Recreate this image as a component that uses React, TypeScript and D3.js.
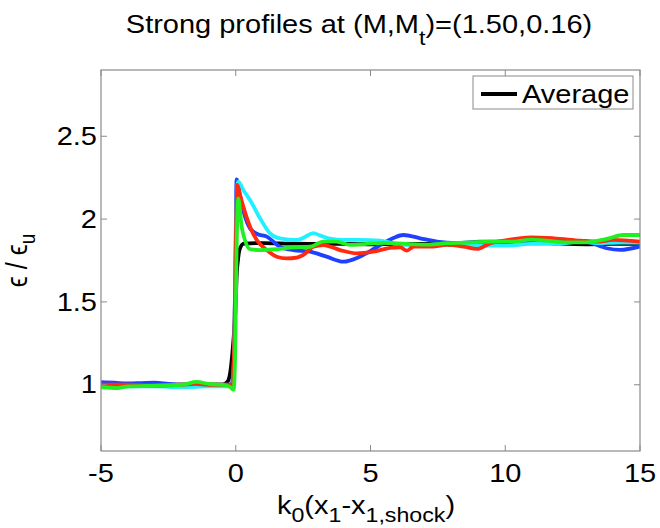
import React from "react";
import * as d3 from "d3";

const xTicks = [-5, 0, 5, 10, 15];
const yTicks = [1, 1.5, 2, 2.5];
const yTickLabels = ["1", "1.5", "2", "2.5"];

const blackX = [-5, -3, -1, -0.5, -0.3, -0.2, -0.12, -0.05, 0, 0.03, 0.08, 0.15, 0.3, 1, 2, 3, 4, 5, 6, 7, 8, 9, 10, 11, 12, 13, 14, 15];
const blackY = [1.0, 1.0, 1.0, 1.0, 1.02, 1.08, 1.2, 1.35, 1.5, 1.65, 1.75, 1.82, 1.852, 1.855, 1.852, 1.85, 1.85, 1.848, 1.85, 1.85, 1.852, 1.855, 1.858, 1.86, 1.852, 1.848, 1.85, 1.85];

const blueX = [-5, -4.5, -4, -3.5, -3, -2.5, -2, -1.5, -1, -0.5, -0.15, -0.05, 0, 0.03, 0.15, 0.3, 0.53, 0.8, 1.15, 1.64, 2.14, 2.76, 3.37, 3.99, 4.6, 5.23, 5.85, 6.22, 6.84, 7.46, 8.2, 9.06, 10.3, 11.3, 12.3, 13.0, 13.76, 14.26, 15];
const blueY = [1.015, 1.012, 1.008, 1.01, 1.012, 1.005, 1.0, 1.005, 1.0, 1.0, 1.0, 1.3, 1.9, 2.24, 2.15, 2.04, 1.944, 1.91, 1.894, 1.833, 1.813, 1.803, 1.773, 1.743, 1.773, 1.83, 1.886, 1.904, 1.884, 1.864, 1.855, 1.864, 1.864, 1.876, 1.87, 1.864, 1.824, 1.814, 1.835];

const cyanX = [-5, -4, -3, -2, -1, -0.3, -0.1, -0.02, 0.04, 0.09, 0.3, 0.53, 0.9, 1.27, 1.64, 2.26, 2.55, 2.87, 3.15, 3.5, 4.0, 4.6, 5.35, 6.1, 7.2, 8.08, 9.06, 10.05, 10.95, 11.8, 12.8, 13.4, 14.26, 15];
const cyanY = [0.99, 0.99, 0.99, 0.985, 0.99, 0.99, 1.0, 1.6, 2.15, 2.226, 2.17, 2.115, 2.005, 1.914, 1.884, 1.874, 1.89, 1.915, 1.9, 1.882, 1.874, 1.874, 1.87, 1.846, 1.84, 1.846, 1.84, 1.84, 1.85, 1.85, 1.864, 1.855, 1.858, 1.858];

const redX = [-5, -4, -3, -2, -1.5, -1, -0.3, -0.1, -0.03, 0.02, 0.06, 0.15, 0.28, 0.53, 0.78, 1.15, 1.52, 1.89, 2.26, 2.5, 2.88, 3.25, 3.87, 4.49, 5.1, 5.72, 6.1, 6.35, 6.6, 7.2, 7.83, 8.45, 8.95, 9.45, 9.95, 10.95, 11.8, 12.8, 13.4, 14.0, 15];
const redY = [1.0, 1.0, 0.995, 1.0, 1.005, 1.0, 1.0, 1.0, 1.5, 2.0, 2.206, 2.15, 2.075, 1.954, 1.874, 1.813, 1.773, 1.763, 1.768, 1.783, 1.833, 1.843, 1.813, 1.793, 1.803, 1.826, 1.83, 1.81, 1.834, 1.834, 1.844, 1.834, 1.82, 1.855, 1.87, 1.89, 1.884, 1.87, 1.864, 1.874, 1.864];

const greenX = [-5, -4.4, -4, -3, -2, -1.45, -1, -0.5, -0.2, -0.08, -0.02, 0.03, 0.09, 0.22, 0.34, 0.53, 0.9, 1.52, 2.14, 2.76, 3.25, 3.74, 4.24, 4.86, 5.47, 6.35, 7.2, 7.83, 8.57, 9.45, 10.3, 10.95, 11.5, 12.3, 13.0, 13.76, 14.38, 15];
const greenY = [0.985, 0.98, 0.99, 0.995, 1.0, 1.017, 1.005, 1.0, 0.985, 0.97, 1.2, 1.8, 2.125, 1.954, 1.874, 1.818, 1.813, 1.818, 1.83, 1.833, 1.864, 1.864, 1.844, 1.85, 1.857, 1.85, 1.846, 1.855, 1.858, 1.864, 1.864, 1.876, 1.87, 1.86, 1.86, 1.88, 1.904, 1.904];

const series = [
  { name: "Average", xs: blackX, ys: blackY, color: "#000000" },
  { name: "s1", xs: blueX, ys: blueY, color: "#2040ff" },
  { name: "s2", xs: cyanX, ys: cyanY, color: "#20f0ff" },
  { name: "s3", xs: redX, ys: redY, color: "#ff2a10" },
  { name: "s4", xs: greenX, ys: greenY, color: "#20f020" },
];

const W = 660;
const H = 528;
const M = { left: 101, right: 640, top: 70, bottom: 451 };
const FONT = "'Liberation Sans', Arial, Helvetica, sans-serif";
const AXIS = "#8a8a8a";
const SX = 1.16;
const FS = 25;

export default function App() {
  const x = d3.scaleLinear().domain([-5, 15]).range([M.left, M.right]);
  const y = d3.scaleLinear().domain([0.6, 2.9]).range([M.bottom, M.top]);
  const line = d3
    .line<[number, number]>()
    .x((d) => x(d[0]))
    .y((d) => y(d[1]))
    .curve(d3.curveMonotoneX);
  const tl = 6;
  return (
    <svg width={W} height={H} style={{ position: "absolute", left: 0, top: 0, background: "#fff" }} fontFamily={FONT}>
      <rect x={0} y={0} width={W} height={H} fill="#fff" />
      <defs>
        <clipPath id="plotclip">
          <rect x={M.left} y={M.top} width={M.right - M.left} height={M.bottom - M.top} />
        </clipPath>
      </defs>
      <g clipPath="url(#plotclip)">
        {series.map((s) => (
          <path
            key={s.name}
            d={line(s.xs.map((v, i) => [v, s.ys[i]] as [number, number])) || ""}
            fill="none"
            stroke={s.color}
            strokeWidth={3.8}
            strokeLinejoin="round"
            strokeLinecap="round"
          />
        ))}
      </g>
      <rect x={M.left} y={M.top} width={M.right - M.left} height={M.bottom - M.top} fill="none" stroke={AXIS} strokeWidth={1.2} />
      {xTicks.map((t) => (
        <g key={"xt" + t}>
          <line x1={x(t)} x2={x(t)} y1={M.bottom} y2={M.bottom - tl} stroke={AXIS} strokeWidth={1} />
          <line x1={x(t)} x2={x(t)} y1={M.top} y2={M.top + tl} stroke={AXIS} strokeWidth={1} />
          <text transform={`translate(${x(t)},482) scale(${SX},1)`} fontSize={FS} textAnchor="middle" fill="#000">
            {String(t)}
          </text>
        </g>
      ))}
      {yTicks.map((t, i) => (
        <g key={"yt" + t}>
          <line x1={M.left} x2={M.left + tl} y1={y(t)} y2={y(t)} stroke={AXIS} strokeWidth={1} />
          <line x1={M.right} x2={M.right - tl} y1={y(t)} y2={y(t)} stroke={AXIS} strokeWidth={1} />
          <text transform={`translate(97,${y(t) + 8.7}) scale(${SX},1)`} fontSize={FS} textAnchor="end" fill="#000">
            {yTickLabels[i]}
          </text>
        </g>
      ))}
      <text transform={`translate(359,33) scale(${SX},1)`} fontSize={FS} textAnchor="middle" fill="#000">
        Strong profiles at (M,M<tspan dy={12} fontSize={20}>t</tspan>
        <tspan dy={-12}>)=(1.50,0.16)</tspan>
      </text>
      <text transform={`translate(366,514) scale(${SX},1)`} fontSize={FS} textAnchor="middle" fill="#000">
        k<tspan dy={8} fontSize={20}>0</tspan>
        <tspan dy={-8}>(x</tspan>
        <tspan dy={8} fontSize={20}>1</tspan>
        <tspan dy={-8}>-x</tspan>
        <tspan dy={8} fontSize={20}>1,shock</tspan>
        <tspan dy={-8}>)</tspan>
      </text>
      <text transform={`translate(27,${(M.top + M.bottom) / 2}) scale(${SX},1) rotate(-90)`} fontSize={FS} textAnchor="middle" fill="#000">
        ϵ / ϵ<tspan dy={7} fontSize={19}>u</tspan>
      </text>
      <rect x={473} y={76} width={160} height={33} fill="#fff" stroke={AXIS} strokeWidth={1} />
      <line x1={481} x2={517} y1={94} y2={94} stroke="#000" strokeWidth={4} />
      <text transform={`translate(522,103) scale(${SX},1)`} fontSize={FS} fill="#000">
        Average
      </text>
    </svg>
  );
}
